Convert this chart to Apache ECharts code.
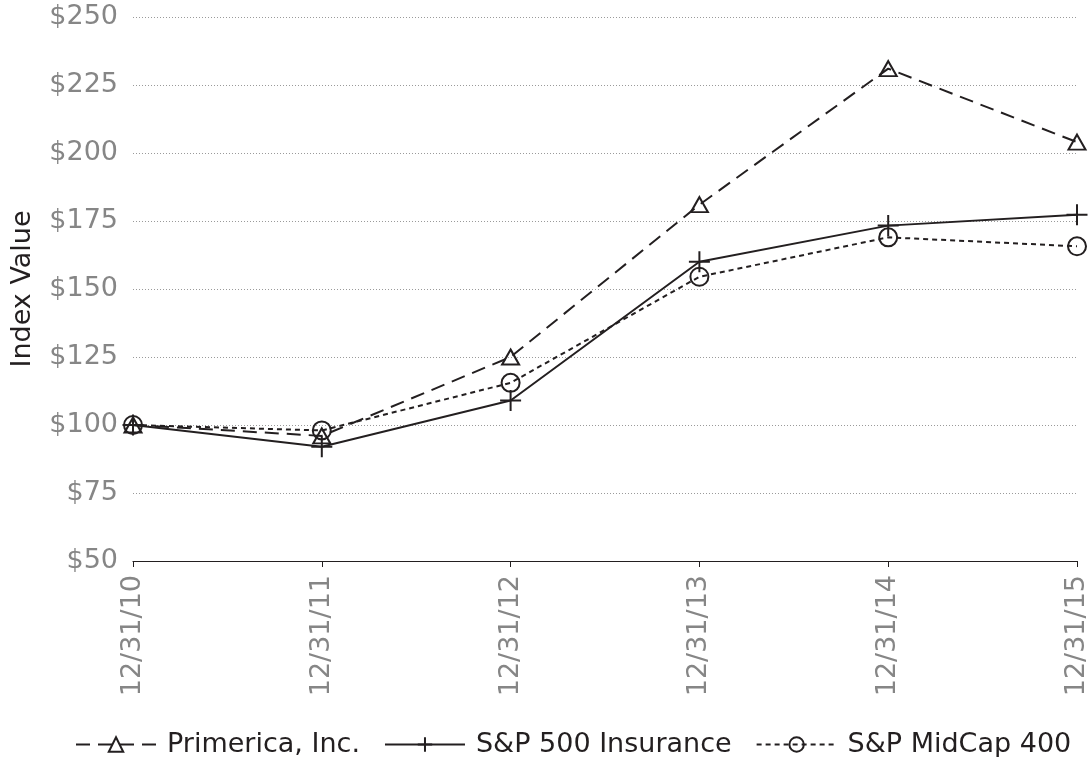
<!DOCTYPE html>
<html><head><meta charset="utf-8">
<script src="https://cdn.jsdelivr.net/npm/echarts@6/dist/echarts.min.js"></script>
<style>html,body{margin:0;padding:0;background:#fff}#c{width:1092px;height:757px}</style>
</head><body><div id="c"></div>
<script>
const categories = ['12/31/10','12/31/11','12/31/12','12/31/13','12/31/14','12/31/15'];
const primerica = [100, 96, 125, 181, 231, 204];
const spInsurance = [100, 92, 109, 160, 173.3, 177.3];
const midcap = [100, 98, 115.5, 154.5, 169, 165.7];
const yTicks = [50, 75, 100, 125, 150, 175, 200, 225, 250];

const FONT = '"DejaVu Sans", sans-serif';
const LINE = '#231f20';
const GREY = '#868686';
const chart = echarts.init(document.getElementById('c'));
const plus = 'path://M0,-10 L0,10 M-10,0 L10,0';
chart.setOption({
  animation: false,
  grid: {left: 133, right: 15, top: 17, bottom: 196},
  legend: {
    top: 726, left: 70, itemWidth: 80, itemHeight: 18, itemGap: 24,
    textStyle: {fontFamily: FONT, fontSize: 27, color: LINE, padding: [0, 0, 0, 6]},
    data: ['Primerica, Inc.', 'S&P 500 Insurance', 'S&P MidCap 400']
  },
  xAxis: {
    type: 'category', data: categories, boundaryGap: false,
    axisLine: {lineStyle: {color: LINE, width: 1.2}},
    axisTick: {show: true, length: 6, lineStyle: {color: LINE}},
    axisLabel: {rotate: 90, color: GREY, fontFamily: FONT, fontSize: 27, margin: 14},
    splitLine: {show: false}
  },
  yAxis: {
    type: 'value', min: 50, max: 250, interval: 25,
    name: 'Index Value', nameLocation: 'middle', nameGap: 97,
    nameTextStyle: {fontFamily: FONT, fontSize: 27, color: LINE},
    axisLine: {show: false}, axisTick: {show: false},
    axisLabel: {color: GREY, fontFamily: FONT, fontSize: 27, margin: 15,
      formatter: v => yTicks.includes(v) ? '$' + v : ''},
    splitLine: {lineStyle: {color: '#9a9a9a', type: [1, 2], width: 1}}
  },
  series: [
    {name: 'Primerica, Inc.', type: 'line', data: primerica,
     symbol: 'triangle', symbolSize: [17, 15],
     lineStyle: {color: LINE, width: 2, type: [14, 8]},
     itemStyle: {color: 'rgba(0,0,0,0)', borderColor: LINE, borderWidth: 2}},
    {name: 'S&P 500 Insurance', type: 'line', data: spInsurance,
     symbol: plus, symbolSize: 21,
     lineStyle: {color: LINE, width: 2, type: 'solid'},
     itemStyle: {color: 'rgba(0,0,0,0)', borderColor: LINE, borderWidth: 2}},
    {name: 'S&P MidCap 400', type: 'line', data: midcap,
     symbol: 'circle', symbolSize: 18,
     lineStyle: {color: LINE, width: 2, type: [5, 4]},
     itemStyle: {color: 'rgba(0,0,0,0)', borderColor: LINE, borderWidth: 2}}
  ]
});
</script></body></html>
